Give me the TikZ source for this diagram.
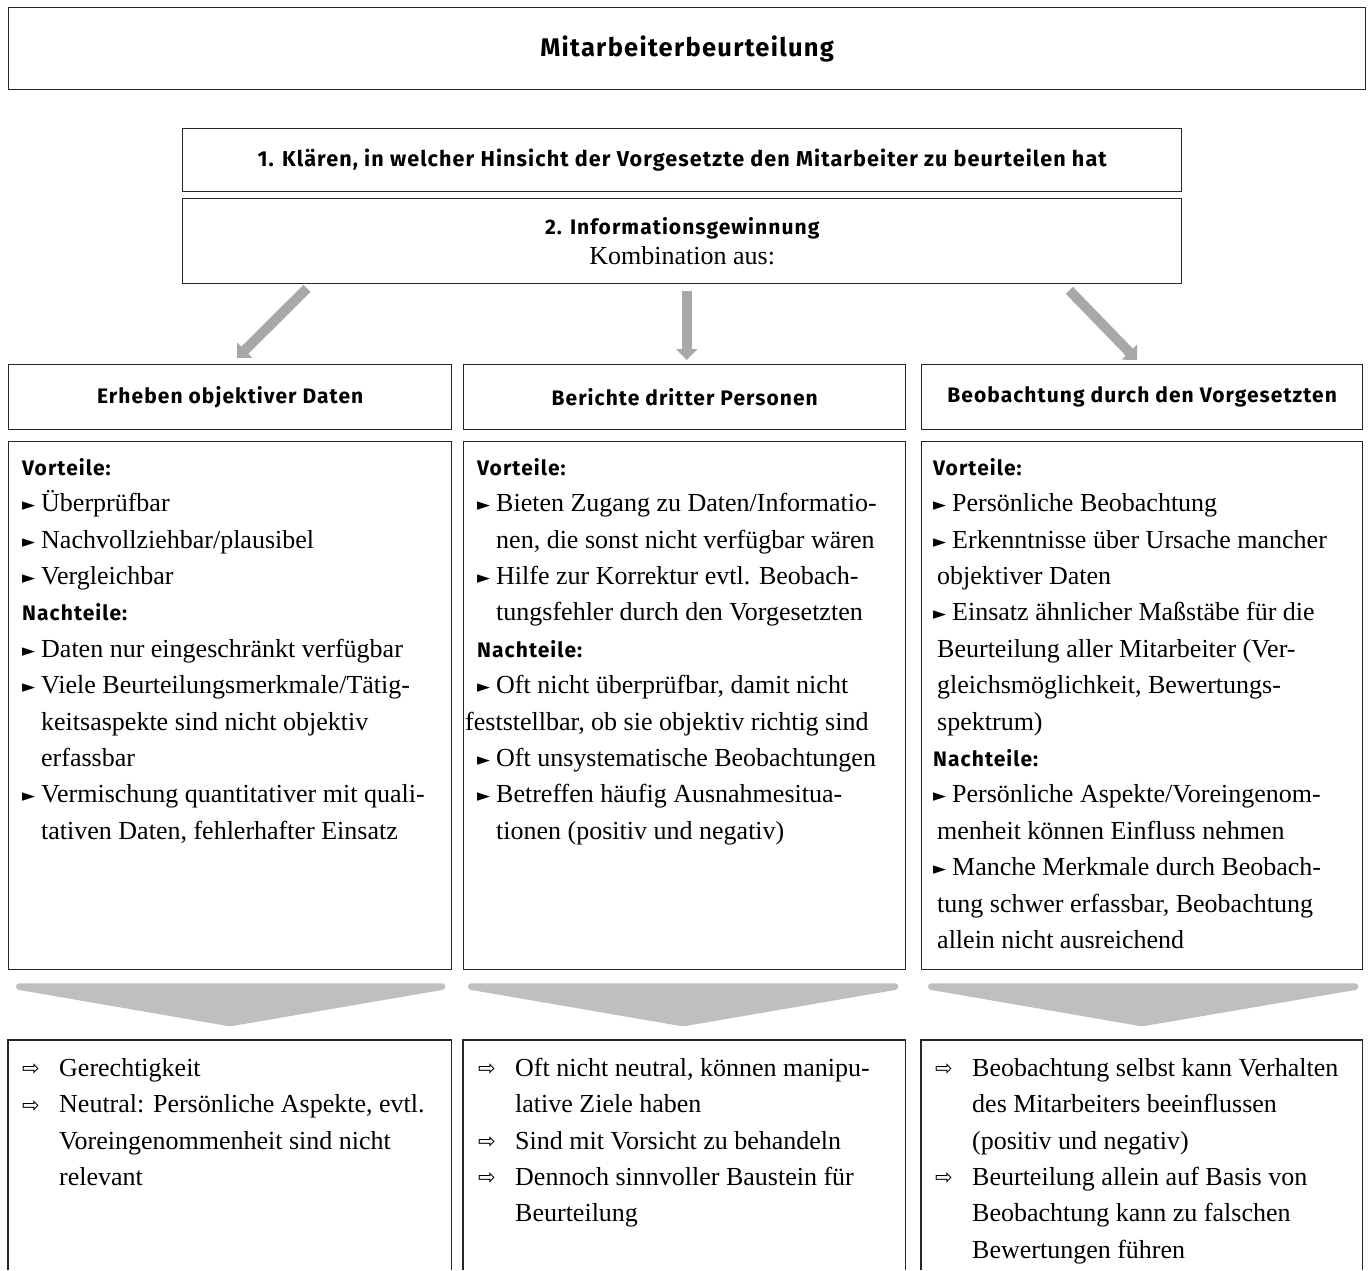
\documentclass[tikz,border=0pt]{standalone}
\usepackage{fontspec}
\setmainfont{Liberation Serif}
\newfontfamily\hsans[LetterSpace=5]{Fira Sans}
\newfontfamily\symf{DejaVu Sans}
\usetikzlibrary{arrows.meta,calc}
\definecolor{arrowgray}{HTML}{A8A8A8}
\definecolor{funnelgray}{HTML}{BFBFBF}
\definecolor{framecol}{HTML}{262626}
\newcommand\bul{\makebox[19pt][l]{\raisebox{1pt}{\symf\fontsize{17}{17}\selectfont ►}}}
\newcommand\ind{\hspace*{19pt}}
\newcommand\hdl[1]{{\hsans\bfseries\fontsize{21}{25}\selectfont #1}}
\newcommand\arr{\makebox[37pt][l]{\raisebox{0.5pt}{\symf\fontsize{21}{21}\selectfont ⇨}}}
\newcommand\aind{\hspace*{37pt}}
\newcommand\firstl{\rule{0pt}{25pt}}
\begin{document}
\begin{tikzpicture}[x=1pt,y=-1pt,
  frame/.style={draw=framecol, line width=1.4pt, inner sep=0pt, anchor=north west},
  openframe/.style={inner sep=0pt, anchor=north west},
  hd/.style={font=\hsans\bfseries\fontsize{21}{25}\selectfont},
  body/.style={anchor=north west, inner sep=0pt, align=left, font=\fontsize{26}{36.4}\selectfont},
  garrow/.style={draw=arrowgray, line width=10pt, -{Triangle[width=21pt,length=11pt]}},
  funnel/.style={fill=funnelgray, rounded corners=3pt}]
\useasboundingbox (0,0) rectangle (1370,1270);

% title
\node[frame, minimum width=1357pt, minimum height=82pt, font=\hsans\bfseries\fontsize{25.5}{30}\selectfont] (title) at (8,7) {Mitarbeiterbeurteilung};

% steps
\node[frame, font=\hsans\bfseries\fontsize{21.6}{25}\selectfont, minimum width=999pt, minimum height=63pt] (step1) at (182,128) {1. Klären, in welcher Hinsicht der Vorgesetzte den Mitarbeiter zu beurteilen hat};
\node[frame, minimum width=999pt, minimum height=85pt, align=center] (info) at (182,198)
  {{\hsans\bfseries\fontsize{21}{25}\selectfont 2. Informationsgewinnung}\\[7pt]{\fontsize{26}{30}\selectfont Kombination aus:}};

% column headers
\node[frame, hd, minimum width=443pt, minimum height=65pt] (h1) at (8,364) {Erheben objektiver Daten};
\node[frame, hd, minimum width=442pt, minimum height=65pt] (h2) at (463,364) {Berichte dritter Personen};
\node[frame, hd, minimum width=441pt, minimum height=65pt] (h3) at (921,364) {Beobachtung durch den Vorgesetzten};

% arrows
\draw[garrow] ($(info.south west)+(125,4)$) -- ($(h1.north west)+(229,-6)$);
\draw[garrow] ($(info.south)+(4.5,7)$) -- ($(h2.north)+(2,-4)$);
\draw[garrow] ($(info.south east)+(-113,6)$) -- ($(h3.north west)+(216,-4)$);

% content boxes
\node[frame, minimum width=443pt, minimum height=528pt] (c1) at (8,441) {};
\node[frame, minimum width=442pt, minimum height=528pt] (c2) at (463,441) {};
\node[frame, minimum width=441pt, minimum height=528pt] (c3) at (921,441) {};

\node[body] (c1t) at ($(c1.north west)+(14,9)$) {\firstl\hdl{Vorteile:}\\
\bul Überprüfbar\\
\bul Nachvollziehbar/plausibel\\
\bul Vergleichbar\\
\hdl{Nachteile:}\\
\bul Daten nur eingeschränkt verfügbar\\
\bul Viele Beurteilungsmerkmale/Tätig-\\
\ind keitsaspekte sind nicht objektiv\\
\ind erfassbar\\
\bul Vermischung quantitativer mit quali-\\
\ind tativen Daten, fehlerhafter Einsatz};

\node[body] (c2t) at ($(c2.north west)+(14,9)$) {\firstl\hdl{Vorteile:}\\
\bul Bieten Zugang zu Daten/Informatio-\\
\ind nen, die sonst nicht verfügbar wären\\
\bul Hilfe zur Korrektur evtl. Beobach-\\
\ind tungsfehler durch den Vorgesetzten\\
\hdl{Nachteile:}\\
\bul Oft nicht überprüfbar, damit nicht\\
\hspace*{-12pt}feststellbar, ob sie objektiv richtig sind\\
\bul Oft unsystematische Beobachtungen\\
\bul Betreffen häufig Ausnahmesitua-\\
\ind tionen (positiv und negativ)};

\node[body] (c3t) at ($(c3.north west)+(12,9)$) {\firstl\hdl{Vorteile:}\\
\bul Persönliche Beobachtung\\
\bul Erkenntnisse über Ursache mancher\\
\hspace*{4pt}objektiver Daten\\
\bul Einsatz ähnlicher Maßstäbe für die\\
\hspace*{4pt}Beurteilung aller Mitarbeiter (Ver-\\
\hspace*{4pt}gleichsmöglichkeit, Bewertungs-\\
\hspace*{4pt}spektrum)\\
\hdl{Nachteile:}\\
\bul Persönliche Aspekte/Voreingenom-\\
\hspace*{4pt}menheit können Einfluss nehmen\\
\bul Manche Merkmale durch Beobach-\\
\hspace*{4pt}tung schwer erfassbar, Beobachtung\\
\hspace*{4pt}allein nicht ausreichend};

% bottom boxes (open at the lower page edge)
\node[openframe, minimum width=443pt, minimum height=230pt] (b1) at (8,1040) {};
\node[openframe, minimum width=442pt, minimum height=230pt] (b2) at (463,1040) {};
\node[openframe, minimum width=441pt, minimum height=230pt] (b3) at (921,1040) {};
\foreach \b in {b1,b2,b3}
  \draw[draw=framecol, line width=1.4pt] (\b.south west) -- (\b.north west) -- (\b.north east) -- (\b.south east);

% funnels
\fill[funnel] ($(c1.south west)+(8,13)$) -- ($(c1.south east)+(-7,13)$) -- ($(c1.south east)+(-7,19)$) -- ($(c1.south west)+(222,56)$) -- ($(c1.south west)+(8,19)$) -- cycle;
\fill[funnel] ($(c2.south west)+(5,13)$) -- ($(c2.south east)+(-8,13)$) -- ($(c2.south east)+(-8,19)$) -- ($(c2.south west)+(220,56)$) -- ($(c2.south west)+(5,19)$) -- cycle;
\fill[funnel] ($(c3.south west)+(7,13)$) -- ($(c3.south east)+(-5,13)$) -- ($(c3.south east)+(-5,19)$) -- ($(c3.south west)+(221,56)$) -- ($(c3.south west)+(7,19)$) -- cycle;

\node[body] (b1t) at ($(b1.north west)+(14,11)$) {\firstl\arr Gerechtigkeit\\
\arr Neutral: Persönliche Aspekte, evtl.\\
\aind Voreingenommenheit sind nicht\\
\aind relevant};

\node[body] (b2t) at ($(b2.north west)+(15,11)$) {\firstl\arr Oft nicht neutral, können manipu-\\
\aind lative Ziele haben\\
\arr Sind mit Vorsicht zu behandeln\\
\arr Dennoch sinnvoller Baustein für\\
\aind Beurteilung};

\node[body] (b3t) at ($(b3.north west)+(14,11)$) {\firstl\arr Beobachtung selbst kann Verhalten\\
\aind des Mitarbeiters beeinflussen\\
\aind (positiv und negativ)\\
\arr Beurteilung allein auf Basis von\\
\aind Beobachtung kann zu falschen\\
\aind Bewertungen führen};
\end{tikzpicture}
\end{document}
